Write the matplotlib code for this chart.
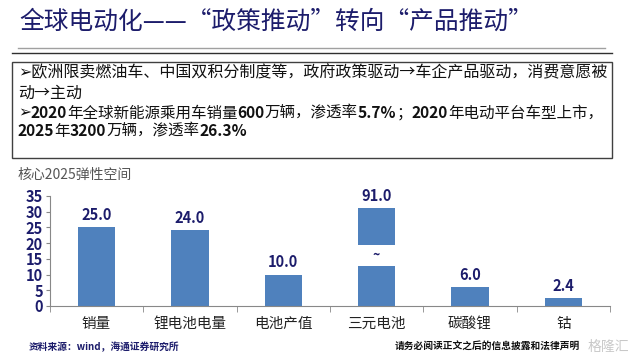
import matplotlib.pyplot as plt
from matplotlib.patches import Rectangle
from matplotlib.lines import Line2D

plt.rcParams['font.family'] = ['Noto Sans CJK SC', 'DejaVu Sans']

categories = ["销量", "锂电池电量", "电池产值", "三元电池", "碳酸锂", "钴"]
values = [25.0, 24.0, 10.0, 91.0, 6.0, 2.4]
yticks = [0, 5, 10, 15, 20, 25, 30, 35]

# broken bar for values beyond the axis range
cap = 31.2
gap_lo, gap_hi = 12.7, 19.4

title = "全球电动化——“政策推动”转向“产品推动”"
bullet1 = ["➢欧洲限卖燃油车、中国双积分制度等，政府政策驱动→车企产品驱动，消费意愿被",
           "动→主动"]
# (text, bold) pieces for the second bullet, one list per line
bullet2 = [[("➢", False), ("2020", True), ("年全球新能源乘用车销量", False), ("600", True),
            ("万辆，渗透率", False), ("5.7%", True), ("；", False), ("2020", True),
            ("年电动平台车型上市，", False)],
           [("2025", True), ("年", False), ("3200", True), ("万辆，渗透率", False),
            ("26.3%", True)]]

navy = "#1c1c6b"
bar_color = "#4f81bd"

fig = plt.figure(figsize=(6.4, 3.6), dpi=100)
fig.patch.set_facecolor("white")
renderer = fig.canvas.get_renderer()

# header
fig.text(0.03, 0.94, title, fontsize=17.8, color=navy, va="center", ha="left")
fig.add_artist(Line2D([0.028, 0.945], [0.867, 0.867], color="#a0a0a0", lw=1))
fig.add_artist(Line2D([0.018, 0.957], [0.853, 0.853], color="#303030", lw=1))

# text box
fig.add_artist(Rectangle((0.019, 0.561), 0.937, 0.267, fill=False,
                         edgecolor="#404040", lw=1, transform=fig.transFigure))
fig.text(0.028, 0.797, bullet1[0], fontsize=11.5, color="#111111", va="center")
fig.text(0.028, 0.742, bullet1[1], fontsize=11.5, color="#111111", va="center")


def runs(pieces, x0, y, size=11.2):
    xpos = x0
    for s, bold in pieces:
        t = fig.text(xpos, y, s, fontsize=size, color="#111111", va="center",
                     fontweight="bold" if bold else "normal")
        bb = t.get_window_extent(renderer)
        xpos += bb.width / fig.bbox.width


runs(bullet2[0], 0.028, 0.686)
runs(bullet2[1], 0.028, 0.636)

fig.text(0.028, 0.513, "核心2025弹性空间", fontsize=10, color="#555555",
         va="center", ha="left")

ax = fig.add_axes([0.078, 0.15, 0.875, 0.306])
x = range(len(categories))
shown = [min(v, cap) for v in values]
ax.bar(x, shown, width=0.4, color=bar_color, zorder=2)

for i, v in enumerate(values):
    ax.text(i, shown[i] + 1.3, f"{v:.1f}", ha="center", va="bottom",
            fontsize=10.5, fontweight="bold", color=navy)
    if v > cap:
        ax.add_patch(Rectangle((i - 0.25, gap_lo), 0.5, gap_hi - gap_lo,
                               facecolor="white", edgecolor="none", zorder=3))
        ax.text(i, (gap_lo + gap_hi) / 2, "~", ha="center", va="center",
                fontsize=9, fontweight="bold", color=navy, zorder=4)

ax.set_xlim(-0.5, len(categories) - 0.5)
ax.set_ylim(0, 35)
ax.set_yticks(yticks)
ax.set_yticklabels([str(t) for t in yticks], fontsize=10.5, fontweight="bold",
                   color=navy)
ax.set_xticks(x)
ax.set_xticklabels(categories, fontsize=10.5, color="#222222")
ax.tick_params(axis="x", length=0, pad=8)
ax.set_xticks([i + 0.5 for i in range(-1, len(categories))], minor=True)
ax.tick_params(axis="x", which="minor", length=4, color="#888888")
ax.tick_params(axis="y", length=3, color="#888888", pad=2)

for side in ["top", "right"]:
    ax.spines[side].set_visible(False)
ax.spines["left"].set_color("#888888")
ax.spines["bottom"].set_color("#888888")

# footer
fig.text(0.045, 0.036, "资料来源：wind，海通证券研究所", fontsize=7,
         fontweight="bold", fontstyle="italic", color="#1c1c6b", va="center")
fig.text(0.617, 0.036, "请务必阅读正文之后的信息披露和法律声明", fontsize=7.0,
         fontweight="bold", color="#111111", va="center")
fig.text(0.918, 0.036, "格隆汇", fontsize=10, color="#bbbbbb", va="center",
         alpha=0.8)

fig.savefig("out.png", dpi=100)
